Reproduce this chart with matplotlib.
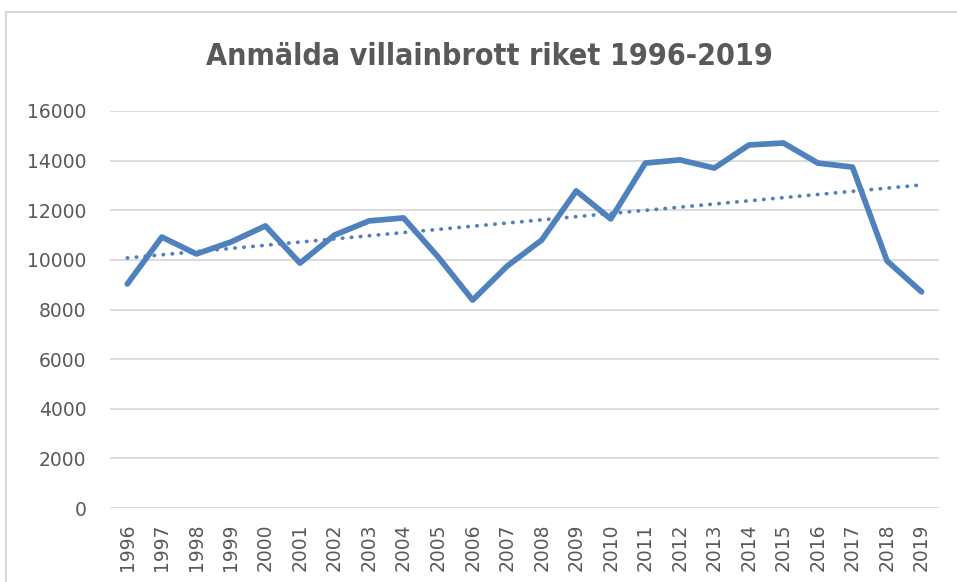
import numpy as np
import matplotlib.pyplot as plt
from matplotlib.patches import Rectangle

years = list(range(1996, 2020))
burglaries = [9030, 10920, 10240, 10720, 11370, 9870, 11000, 11570, 11690, 10120,
              8380, 9750, 10800, 12780, 11650, 13900, 14030, 13700, 14630, 14710,
              13900, 13740, 9960, 8710]
yticks = [0, 2000, 4000, 6000, 8000, 10000, 12000, 14000, 16000]

blue = "#4F81BD"
grey_text = "#595959"

fig = plt.figure(figsize=(9.57, 5.82), dpi=100)
ax = fig.add_axes([0.115, 0.1271, 0.866, 0.6822])

# chart frame (cut off at right/bottom like the screenshot)
fig.patches.append(Rectangle((6 / 957, -0.1), 1.2, 1 - 12 / 582 + 0.1,
                             transform=fig.transFigure, fill=False,
                             edgecolor="#D9D9D9", linewidth=1.5))

x = np.arange(len(years))
ax.plot(x, burglaries, color=blue, linewidth=4.1, solid_joinstyle="round",
        solid_capstyle="round", zorder=3)

# linear trend line
k, m = np.polyfit(x, burglaries, 1)
ax.plot(x, k * x + m, color=blue, linewidth=2.7, linestyle=(0, (0.1, 2.3)),
        dash_capstyle="round", zorder=3)

ax.set_xlim(-0.5, len(years) - 0.5)
ax.set_ylim(0, 16000)
ax.set_yticks(yticks)
ax.set_yticklabels([str(v) for v in yticks])
ax.set_xticks(x)
ax.set_xticklabels([str(y) for y in years], rotation=90)

ax.grid(axis="y", color="#D9D9D9", linewidth=1.3)
ax.set_axisbelow(True)
for s in ax.spines.values():
    s.set_visible(False)
ax.tick_params(axis="y", length=0, pad=17, labelsize=13.5, labelcolor=grey_text)
ax.tick_params(axis="x", length=0, pad=11, labelsize=13.5, labelcolor=grey_text)

fig.text(0.511, 0.903, "Anmälda villainbrott riket 1996-2019", ha="center",
         va="center", fontsize=21.8, fontweight="bold", fontstretch="condensed",
         color=grey_text)

fig.savefig("out.png", dpi=100)
